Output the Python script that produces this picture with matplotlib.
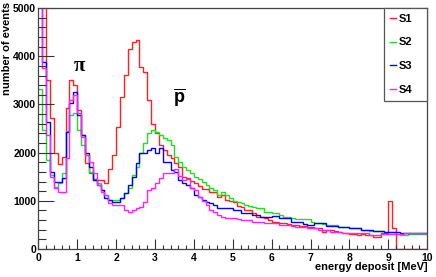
import numpy as np
import matplotlib
matplotlib.use('Agg')
import matplotlib.pyplot as plt

plt.rcParams['font.family'] = ['Liberation Sans', 'DejaVu Sans']
plt.rcParams['mathtext.fontset'] = 'custom'
plt.rcParams['mathtext.bf'] = 'Liberation Sans:bold'
plt.rcParams['mathtext.rm'] = 'Liberation Sans'

# energy deposit histograms, 100 bins of 0.1 MeV from 0 to 10
edges = np.linspace(0, 10, 101)

s1 = [7000, 6000, 3510, 2710, 2000, 1760, 1915, 2920, 3510, 3400,
      2880, 2370, 1780, 1570, 1450, 1430, 1430, 1360, 1650, 1950,
      2540, 3160, 3610, 4160, 4300, 4336, 3780, 3680, 3090, 2600,
      2400, 2160, 2060, 1950, 1880, 1777, 1708, 1500, 1466, 1420,
      1380, 1300, 1250, 1240, 1190, 1190, 1086, 1130, 1017, 1000,
      982, 900, 878, 809, 809, 740, 671, 671, 636, 600,
      567, 560, 533, 533, 520, 500, 490, 477, 477, 460,
      450, 440, 430, 360, 394, 394, 380, 360, 325, 330,
      311, 311, 300, 311, 290, 300, 256, 256, 325, 340,
      996, 435, 10, 10, 10, 10, 10, 10, 10, 10]

s2 = [3310, 2470, 1846, 1535, 1293, 1362, 1570, 2450, 2780, 2830,
      2470, 2160, 1950, 1604, 1432, 1362, 1224, 1120, 1017, 1017,
      1017, 1051, 1155, 1259, 1535, 1708, 1985, 2192, 2400, 2469,
      2434, 2365, 2296, 2261, 2158, 1916, 1812, 1708, 1639, 1570,
      1500, 1450, 1400, 1328, 1259, 1224, 1120, 1190, 1120, 1051,
      1000, 982, 947, 913, 900, 864, 844, 844, 775, 775,
      740, 740, 700, 671, 671, 650, 622, 622, 615, 615,
      567, 546, 546, 520, 498, 498, 498, 463, 463, 450,
      429, 429, 429, 394, 394, 373, 373, 373, 373, 360,
      360, 360, 320, 300, 290, 311, 311, 311, 311, 311]

s3 = [6000, 3886, 2642, 1604, 1397, 1397, 1466, 2434, 3022, 3264,
      2780, 2365, 1985, 1708, 1432, 1328, 1224, 1051, 1017, 982,
      982, 1051, 1155, 1328, 1500, 1777, 1985, 1985, 2054, 2088,
      1985, 2088, 1812, 1812, 1639, 1604, 1432, 1362, 1328, 1259,
      1120, 1086, 1017, 982, 947, 913, 844, 844, 844, 844,
      809, 809, 754, 754, 754, 705, 705, 671, 671, 671,
      680, 690, 650, 650, 650, 567, 567, 567, 520, 498,
      498, 533, 533, 533, 477, 477, 477, 450, 450, 450,
      429, 429, 429, 394, 394, 394, 373, 373, 373, 360,
      360, 360, 360, 339, 339, 339, 339, 325, 325, 325]

s4 = [6500, 3750, 2365, 1500, 1259, 1190, 1190, 1881, 3091, 3195,
      2815, 2330, 1950, 1812, 1570, 1328, 1190, 1120, 947, 913,
      913, 913, 809, 775, 809, 844, 878, 982, 1224, 1259,
      1362, 1466, 1584, 1584, 1570, 1653, 1515, 1432, 1445, 1259,
      1224, 1086, 1003, 913, 809, 775, 705, 671, 650, 636,
      636, 620, 602, 602, 602, 567, 567, 567, 533, 533,
      533, 533, 498, 498, 498, 480, 463, 463, 450, 440,
      429, 429, 394, 394, 394, 360, 360, 360, 339, 339,
      339, 325, 325, 325, 325, 290, 290, 290, 311, 311,
      311, 311, 311, 311, 325, 325, 325, 325, 325, 325]

labels = ['S1', 'S2', 'S3', 'S4']
colors = ['#ff2020', '#20e020', '#0000ff', '#ff20ff']

fig = plt.figure(figsize=(4.36, 2.77), dpi=100)
ax = fig.add_axes([0.0878, 0.101, 0.892, 0.870])

for vals, lab, col in zip([s1, s2, s3, s4], labels, colors):
    ax.stairs(vals, edges, color=col, lw=1.0, label=lab, baseline=None)

ax.set_xlim(0, 10)
ax.set_ylim(0, 5000)
ax.set_xticks(np.arange(0, 11, 1))
ax.set_xticks(np.arange(0, 10.01, 0.2), minor=True)
ax.set_yticks(np.arange(0, 5001, 1000))
ax.set_yticks(np.arange(0, 5001, 200), minor=True)

ax.tick_params(axis='both', which='both', direction='in', color='#333333',
               width=0.8, labelsize=7.5)
ax.tick_params(axis='x', which='major', length=7, pad=3)
ax.tick_params(axis='x', which='minor', length=3)
ax.tick_params(axis='y', which='major', length=11.5, pad=1.5)
ax.tick_params(axis='y', which='minor', length=6)
for lbl in ax.get_xticklabels() + ax.get_yticklabels():
    lbl.set_fontweight('bold')

for sp in ax.spines.values():
    sp.set_color('#444444')
    sp.set_linewidth(0.9)

ax.set_xlabel('energy deposit [MeV]', fontsize=8, fontweight='bold', loc='right')
ax.xaxis.set_label_coords(1.0, -0.054)
ax.set_ylabel('number of events', fontsize=8, fontweight='bold', loc='top')
ax.yaxis.label.set_va('center')
ax.yaxis.set_label_coords(-0.08, 1.025)

ax.text(1.05, 3800, '\u03c0', fontsize=15, fontweight='bold',
        family='Liberation Serif', ha='center', va='center')
ax.text(3.64, 3150, r'$\mathbf{\overline{p}}$', fontsize=13,
        ha='center', va='center')

leg = ax.legend(loc='upper left', bbox_to_anchor=(0.889, 0.0, 0.111, 1.0),
                mode='expand', fancybox=False, framealpha=1, edgecolor='#555555',
                handlelength=0.6, handletextpad=0.2, labelspacing=1.25,
                borderpad=0.5, borderaxespad=0, prop={'size': 8, 'weight': 'bold'})
leg.get_frame().set_linewidth(0.9)

fig.savefig('out.png', dpi=100)
